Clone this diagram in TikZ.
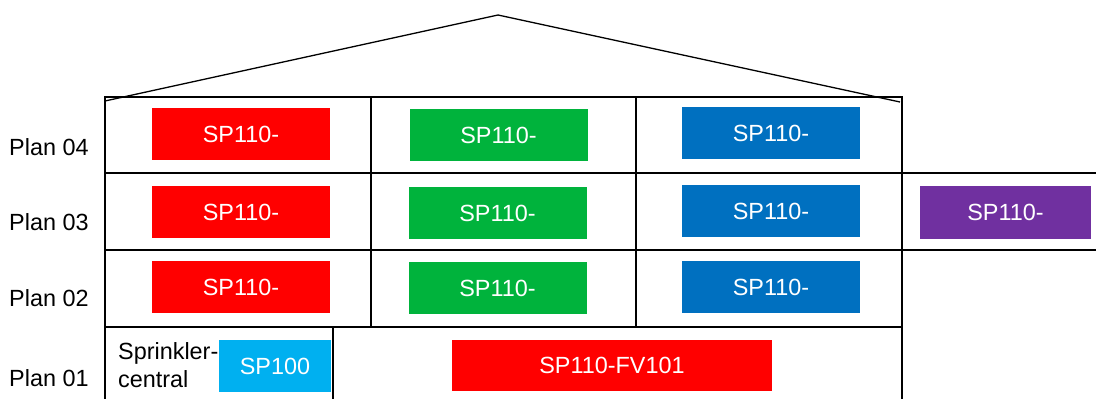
\documentclass[tikz,border=0pt]{standalone}
\usepackage{fontspec}
\setmainfont{Liberation Sans}
\definecolor{cred}{HTML}{FF0000}
\definecolor{cgreen}{HTML}{00B33C}
\definecolor{cblue}{HTML}{0070C0}
\definecolor{cpurple}{HTML}{7030A0}
\definecolor{ccyan}{HTML}{00B0F0}
\begin{document}
\begin{tikzpicture}[x=1pt,y=-1pt,
  box/.style={draw=none,fill=#1,text=white,minimum width=178pt,minimum height=52pt,inner sep=0pt,font=\fontsize{23.4}{27}\selectfont},
  lbl/.style={anchor=west,inner sep=0pt,font=\fontsize{23.4}{27}\selectfont},
  wall/.style={line width=2pt},
  roof/.style={line width=1.3pt}]
\useasboundingbox (0,0) rectangle (1096,399);
% building
\draw[wall] (105,399) -- (105,97) -- (902,97) -- (902,399);
\draw[wall] (105,173) -- (1096,173);
\draw[wall] (105,250) -- (1096,250);
\draw[wall] (105,327) -- (902,327);
\draw[wall] (371,97) -- (371,327);
\draw[wall] (636,97) -- (636,327);
\draw[wall] (333,327) -- (333,399);
\draw[roof] (105,101) -- (498,15) -- (900,102);
% labels
\node[lbl] (l4) at (9,147) {Plan 04};
\node[lbl] (l3) at (9,222) {Plan 03};
\node[lbl] (l2) at (9,298) {Plan 02};
\node[lbl] (l1) at (9,378) {Plan 01};
% plan 04
\node[box=cred] (r4) at (241,134) {SP110-};
\node[box=cgreen] (g4) at (498.5,135) {SP110-};
\node[box=cblue] (b4) at (771,133) {SP110-};
% plan 03
\node[box=cred] (r3) at (241,212) {SP110-};
\node[box=cgreen] (g3) at (497.5,213) {SP110-};
\node[box=cblue] (b3) at (771,211) {SP110-};
\node[box=cpurple,minimum width=171pt,minimum height=53pt] (p3) at (1005.5,212.5) {SP110-};
% plan 02
\node[box=cred] (r2) at (241,287) {SP110-};
\node[box=cgreen] (g2) at (497.5,288) {SP110-};
\node[box=cblue] (b2) at (771,287) {SP110-};
% plan 01
\node[box=ccyan,minimum width=112pt] (sp100) at (275,366) {SP100};
\node[box=cred,minimum width=320pt,minimum height=51pt] (fv) at (612,365.5) {SP110-FV101};
\node[anchor=north west,inner sep=0pt,align=left,font=\fontsize{23.4}{28}\selectfont] (sc) at (118,342) {Sprinkler-\\central};
\end{tikzpicture}
\end{document}
